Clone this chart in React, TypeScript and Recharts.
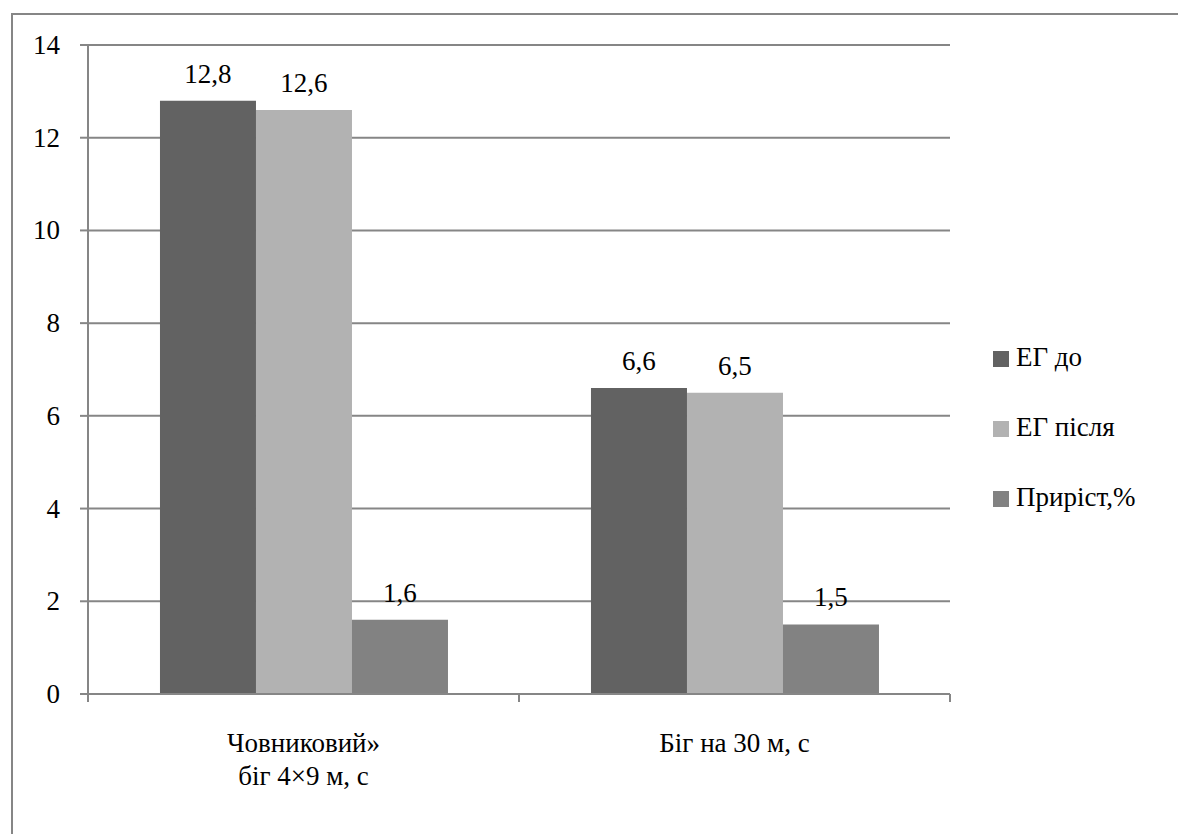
import React from 'react';
import { BarChart, Bar, XAxis, YAxis, CartesianGrid, LabelList } from 'recharts';

const categories = ['Човниковий»\nбіг 4×9 м, с', 'Біг на 30 м, с'];
const egBefore = [12.8, 6.6];
const egAfter = [12.6, 6.5];
const growth = [1.6, 1.5];
const yTicks = [0, 2, 4, 6, 8, 10, 12, 14];

const seriesInfo = [
  { key: 'before', name: 'ЕГ до', color: '#626262' },
  { key: 'after', name: 'ЕГ після', color: '#b2b2b2' },
  { key: 'growth', name: 'Приріст,%', color: '#828282' },
];

const data = categories.map((name, i) => ({
  name,
  before: egBefore[i],
  after: egAfter[i],
  growth: growth[i],
}));

const FONT = 'Liberation Serif';
const GRID = '#868686';
const FS = 27;

const fmt = (v: any) => String(v).replace('.', ',');

const CategoryTick = (props: any) => {
  const { x, y, payload, index, visibleTicksCount } = props;
  const half = payload.offset || 0;
  const lines = String(payload.value).split('\n');
  const isLast = index === (visibleTicksCount ?? 2) - 1;
  return (
    <g>
      <line x1={x - half} y1={y} x2={x - half} y2={y + 8} stroke={GRID} strokeWidth={2} />
      {isLast && <line x1={x + half} y1={y} x2={x + half} y2={y + 8} stroke={GRID} strokeWidth={2} />}
      {lines.map((l, i) => (
        <text key={i} x={x} y={y + 58 + i * 33} textAnchor="middle" fill="#000" fontSize={FS} fontFamily={FONT}>
          {l}
        </text>
      ))}
    </g>
  );
};

const ValueTick = (props: any) => {
  const { x, y, payload } = props;
  return (
    <text x={x} y={y + 9} textAnchor="end" fill="#000" fontSize={FS} fontFamily={FONT}>
      {payload.value}
    </text>
  );
};

const BarValue = (props: any) => {
  const { x, y, width, value } = props;
  return (
    <text x={x + width / 2} y={y - 18} textAnchor="middle" fill="#000" fontSize={FS} fontFamily={FONT}>
      {fmt(value)}
    </text>
  );
};

export default function App() {
  return (
    <div style={{ position: 'absolute', left: 0, top: 0, width: 1178, height: 834, background: '#fff', overflow: 'hidden' }}>
      <div style={{ position: 'absolute', left: 11, top: 13, width: 1180, height: 840, borderTop: `2px solid ${GRID}`, borderLeft: `2px solid ${GRID}` }} />
      <div style={{ position: 'absolute', left: 0, top: 0 }}>
        <BarChart
          width={1178}
          height={834}
          data={data}
          margin={{ top: 45, right: 228, bottom: 40, left: 28 }}
          barCategoryGap="16.7%"
          barGap={0}
        >
          <CartesianGrid vertical={false} stroke={GRID} strokeWidth={2} />
          <XAxis
            dataKey="name"
            height={100}
            axisLine={{ stroke: GRID, strokeWidth: 2 }}
            tickLine={false}
            tickSize={0}
            tickMargin={0}
            tick={<CategoryTick />}
            interval={0}
          />
          <YAxis
            width={60}
            domain={[0, 14]}
            ticks={yTicks}
            axisLine={{ stroke: GRID, strokeWidth: 2 }}
            tickLine={{ stroke: GRID, strokeWidth: 2 }}
            tickSize={8}
            tickMargin={20}
            tick={<ValueTick />}
          />
          {seriesInfo.map((s) => (
            <Bar key={s.key} dataKey={s.key} name={s.name} fill={s.color} isAnimationActive={false}>
              <LabelList dataKey={s.key} content={<BarValue />} />
            </Bar>
          ))}
        </BarChart>
      </div>
      {/* legend kept outside the chart wrapper */}
      <div style={{ position: 'absolute', left: 993, top: 322, width: 185, fontFamily: '"Liberation Serif"', fontSize: FS, color: '#000' }}>
        {seriesInfo.map((s) => (
          <div key={s.key} style={{ display: 'flex', alignItems: 'center', height: 70 }}>
            <span style={{ display: 'inline-block', width: 16, height: 16, background: s.color, marginRight: 7, marginTop: 4 }} />
            <span style={{ fontFamily: '"Liberation Serif"' }}>{s.name}</span>
          </div>
        ))}
      </div>
    </div>
  );
}
